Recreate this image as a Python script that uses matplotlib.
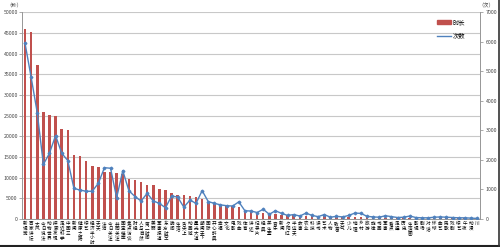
import numpy as np
import matplotlib
matplotlib.use('Agg')
import matplotlib.pyplot as plt
from matplotlib.lines import Line2D
from matplotlib.patches import Patch

plt.rcParams['font.family'] = ['Noto Sans CJK SC', 'DejaVu Sans']

labels = ['新视觉', '百家讲坛', '大风', '今日说法', '动物世界', '探索发现', '走近科学', '中国三',
          '新闻', '健康之路', '综艺', '经济半小时', '天天', '法治', '今日关注', '共同关注',
          '国宝档案', '焦点访谈', '财经', '人与自然', '第一时间', '美丽', '军事报道', '东方时空',
          '晚间', '生活', '舌尖上', '动画城', '星光大道', '朝闻天下', '国际', '开心辞典',
          '幸福', '文化', '电影', '戏曲', '体育', '讲述', '纪录片', '经典',
          '养生堂', '音乐', '新闻', '夕阳红', '半边天', '故事', '农业', '科技',
          '读书', '艺术', '人物', '致富', '天气', '少儿', '地理', '乡村',
          '旅游', '旋律', '书画', '军事', '看点', '走遍', '历史', '生活圈',
          '影视', '剧场', '对话', '环球', '曲艺', '民歌', '戏剧', '综艺',
          '午夜', '动漫', '川']

durations = [46100, 45200, 37400, 26000, 25200, 25000, 21800, 21500, 15600, 15200,
             14100, 12800, 12600, 11400, 11300, 11100, 10800, 9800, 9500, 9000,
             8300, 8200, 7300, 7000, 6200, 5900, 5700, 5600, 5400, 4800,
             4200, 3550, 3400, 3300, 3150, 2800, 2200, 1950, 1800, 1550,
             1400, 1200, 1050, 970, 890, 810, 800, 730, 700, 650,
             600, 560, 520, 480, 450, 420, 400, 380, 360, 340,
             320, 300, 290, 280, 270, 260, 250, 240, 230, 220,
             210, 200, 190, 180, 170]

counts = [5950, 4800, 3600, 1850, 2230, 2830, 2230, 1980, 1040, 980,
          940, 940, 1210, 1740, 1720, 720, 1640, 960, 760, 610,
          870, 610, 530, 380, 780, 740, 400, 640, 530, 960,
          590, 530, 480, 450, 440, 580, 280, 270, 220, 330,
          160, 280, 190, 120, 150, 100, 200, 120, 80, 150,
          60, 90, 70, 120, 200, 190, 90, 70, 60, 110,
          80, 50, 60, 100, 50, 40, 40, 60, 70, 60,
          50, 40, 40, 30, 20]

x = np.arange(len(labels))

fig = plt.figure(figsize=(5.0, 2.47), dpi=100)
ax = fig.add_axes([0.044, 0.1134, 0.916, 0.836])
ax2 = ax.twinx()

ax.bar(x, durations, width=0.42, color='#C0504D', zorder=2)
ax2.plot(x, counts, color='#4F81BD', lw=1.0, marker='D', ms=1.4, zorder=3)

ax.set_xlim(-0.5, len(labels) - 0.5)
ax.set_ylim(0, 50000)
ax2.set_ylim(0, 7000)
ax.set_yticks(np.arange(0, 50001, 5000))
ax2.set_yticks(np.arange(0, 7001, 1000))
ax.grid(axis='y', color='#C8C8C8', lw=0.8, zorder=0)
ax.set_axisbelow(True)

ax.set_xticks(x)
ax.set_xticklabels(['\n'.join(s) for s in labels], fontsize=3.3, linespacing=0.95,
                   va='top')
ax.tick_params(axis='x', length=0, pad=1.5)
ax.tick_params(axis='y', labelsize=3.8, length=2, width=0.5, color='#888888',
               labelcolor='#444444', pad=1)
ax2.tick_params(axis='y', labelsize=3.8, length=2, width=0.5, color='#888888',
                labelcolor='#444444', pad=2)

for a in (ax, ax2):
    a.spines['top'].set_visible(False)
    for s in ('left', 'right', 'bottom'):
        a.spines[s].set_color('#999999')
        a.spines[s].set_linewidth(0.7)

fig.text(0.028, 0.975, '（秒）', fontsize=3.8, color='#444444', va='center', ha='center')
fig.text(0.972, 0.975, '（次）', fontsize=3.8, color='#444444', va='center', ha='center')

handles = [Patch(color='#C0504D'), Line2D([], [], color='#4F81BD', lw=1.0)]
ax.legend(handles, ['时长', '次数'], loc='upper right', bbox_to_anchor=(0.98, 1.0),
          fontsize=4.5, frameon=False, handlelength=2.2, handleheight=0.5,
          labelspacing=0.9, handletextpad=0.3)

# dark edge along the bottom and right of the picture
fig.add_artist(Line2D([0, 1], [0.006, 0.006], transform=fig.transFigure,
                      color='#222222', lw=1.5))
fig.add_artist(Line2D([0.997, 0.997], [0, 1], transform=fig.transFigure,
                      color='#333333', lw=1.2))

fig.savefig('out.png', dpi=100)
